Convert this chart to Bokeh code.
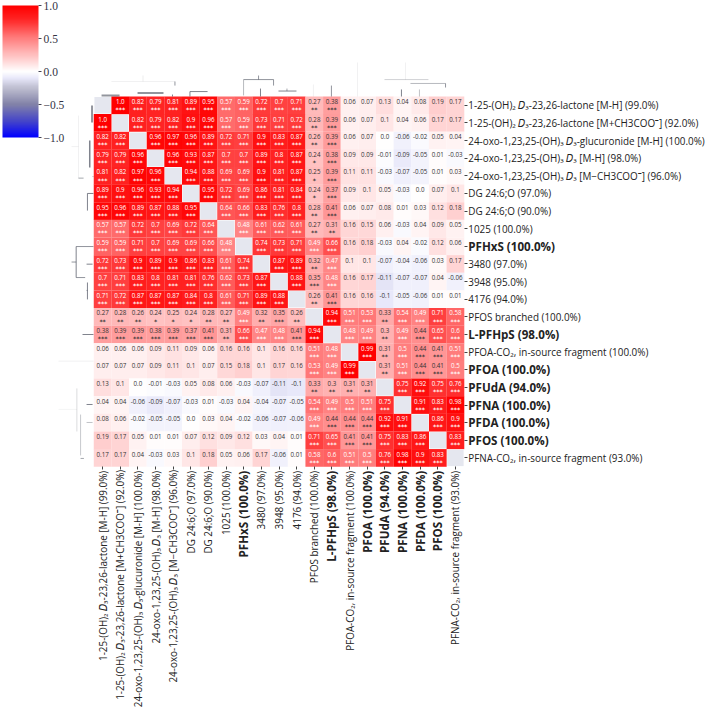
from math import pi
from bokeh.embed import file_html
from bokeh.resources import INLINE
from bokeh.plotting import figure
from bokeh.models import (ColumnDataSource, LinearColorMapper, ColorBar, FixedTicker, LinearAxis, Range1d)
from bokeh.core.properties import value

labels = [
    "1-25-(OH)₂ 𝐷₃-23,26-lactone [M-H] (99.0%)",
    "1-25-(OH)₂ 𝐷₃-23,26-lactone [M+CH3COO⁻] (92.0%)",
    "24-oxo-1,23,25-(OH)₃ 𝐷₃-glucuronide [M-H] (100.0%)",
    "24-oxo-1,23,25-(OH)₃ 𝐷₃ [M-H] (98.0%)",
    "24-oxo-1,23,25-(OH)₃ 𝐷₃ [M−CH3COO⁻] (96.0%)",
    "DG 24:6;O (97.0%)",
    "DG 24:6;O (90.0%)",
    "1025 (100.0%)",
    "PFHxS (100.0%)",
    "3480 (97.0%)",
    "3948 (95.0%)",
    "4176 (94.0%)",
    "PFOS branched (100.0%)",
    "L-PFHpS (98.0%)",
    "PFOA-CO₂, in-source fragment (100.0%)",
    "PFOA (100.0%)",
    "PFUdA (94.0%)",
    "PFNA (100.0%)",
    "PFDA (100.0%)",
    "PFOS (100.0%)",
    "PFNA-CO₂, in-source fragment (93.0%)",
]
bold_labels = ["PFHxS (100.0%)", "L-PFHpS (98.0%)", "PFOA (100.0%)", "PFUdA (94.0%)",
               "PFNA (100.0%)", "PFDA (100.0%)", "PFOS (100.0%)"]

row00 = [None, 1.0, .82, .79, .81, .89, .95, .57, .59, .72, .7, .71, .27, .38, .06, .07, .13, .04, .08, .19, .17]
row01 = [1.0, None, .82, .79, .82, .9, .96, .57, .59, .73, .71, .72, .28, .39, .06, .07, .1, .04, .06, .17, .17]
row02 = [.82, .82, None, .96, .97, .96, .89, .72, .71, .9, .83, .87, .26, .39, .06, .07, 0.0, -.06, -.02, .05, .04]
row03 = [.79, .79, .96, None, .96, .93, .87, .7, .7, .89, .8, .87, .24, .38, .09, .09, -.01, -.09, -.05, .01, -.03]
row04 = [.81, .82, .97, .96, None, .94, .88, .69, .69, .9, .81, .87, .25, .39, .11, .11, -.03, -.07, -.05, .01, .03]
row05 = [.89, .9, .96, .93, .94, None, .95, .72, .69, .86, .81, .84, .24, .37, .09, .1, .05, -.03, 0.0, .07, .1]
row06 = [.95, .96, .89, .87, .88, .95, None, .64, .66, .83, .76, .8, .28, .41, .06, .07, .08, .01, .03, .12, .18]
row07 = [.57, .57, .72, .7, .69, .72, .64, None, .48, .61, .62, .61, .27, .31, .16, .15, .06, -.03, .04, .09, .05]
row08 = [.59, .59, .71, .7, .69, .69, .66, .48, None, .74, .73, .71, .49, .66, .16, .18, -.03, .04, -.02, .12, .06]
row09 = [.72, .73, .9, .89, .9, .86, .83, .61, .74, None, .87, .89, .32, .47, .1, .1, -.07, -.04, -.06, .03, .17]
row10 = [.7, .71, .83, .8, .81, .81, .76, .62, .73, .87, None, .88, .35, .48, .16, .17, -.11, -.07, -.07, .04, -.06]
row11 = [.71, .72, .87, .87, .87, .84, .8, .61, .71, .89, .88, None, .26, .41, .16, .16, -.1, -.05, -.06, .01, .01]
row12 = [.27, .28, .26, .24, .25, .24, .28, .27, .49, .32, .35, .26, None, .94, .51, .53, .33, .54, .49, .71, .58]
row13 = [.38, .39, .39, .38, .39, .37, .41, .31, .66, .47, .48, .41, .94, None, .48, .49, .3, .49, .44, .65, .6]
row14 = [.06, .06, .06, .09, .11, .09, .06, .16, .16, .1, .16, .16, .51, .48, None, .99, .31, .5, .44, .41, .51]
row15 = [.07, .07, .07, .09, .11, .1, .07, .15, .18, .1, .17, .16, .53, .49, .99, None, .31, .51, .44, .41, .5]
row16 = [.13, .1, 0.0, -.01, -.03, .05, .08, .06, -.03, -.07, -.11, -.1, .33, .3, .31, .31, None, .75, .92, .75, .76]
row17 = [.04, .04, -.06, -.09, -.07, -.03, .01, -.03, .04, -.04, -.07, -.05, .54, .49, .5, .51, .75, None, .91, .83, .98]
row18 = [.08, .06, -.02, -.05, -.05, 0.0, .03, .04, -.02, -.06, -.07, -.06, .49, .44, .44, .44, .92, .91, None, .86, .9]
row19 = [.19, .17, .05, .01, .01, .07, .12, .09, .12, .03, .04, .01, .71, .65, .41, .41, .75, .83, .86, None, .83]
row20 = [.17, .17, .04, -.03, .03, .1, .18, .05, .06, .17, -.06, .01, .58, .6, .51, .5, .76, .98, .9, .83, None]
matrix = [row00, row01, row02, row03, row04, row05, row06, row07, row08, row09, row10,
          row11, row12, row13, row14, row15, row16, row17, row18, row19, row20]

# dendrogram segments in cell units: x0, y0, x1, y1, alpha, width
top_tree = [
    (1.0, -.85, 4.6, -.85, .08, 1), (2.79, -1.19, 2.79, -.85, .1, 1), (4.6, -.85, 4.6, -.62, .6, 1),
    (.44, -.06, 1.46, -.06, .6, 2), (2.48, -.2, 3.95, -.2, .6, 2), (4.46, -.11, 4.46, 0, .7, 1),
    (5.45, -.28, 5.45, 0, .7, 1), (5.45, -.28, 6.45, -.28, .7, 1), (8.49, -.96, 10.19, -.96, .6, 1),
    (8.49, -.96, 8.49, -.06, .4, 1), (10.19, -.96, 10.19, -.62, .6, 1), (9.34, -1.19, 9.34, -.96, .6, 1),
    (9.45, -.45, 9.45, 0, .7, 1), (10.47, -.31, 11.49, -.31, .7, 1), (10.95, -.45, 10.95, -.31, .5, 1),
    (13.47, -.62, 13.47, 0, .6, 1), (12.45, -.68, 12.45, 0, .08, 1), (14.95, -1.93, 14.95, 0, .08, 1),
    (16.48, -.96, 18.97, -.96, .25, 1), (17.67, -1.93, 17.67, -.96, .08, 1), (17.95, -.74, 19.94, -.74, .4, 1),
    (19.94, -.74, 19.94, -.51, .6, 1), (17.44, -.4, 17.44, 0, .7, 1), (18.46, -.4, 18.46, 0, .35, 1),
]
left_tree = [
    (-.1, .51, -.1, 1.47, .6, 2), (-.23, 2.5, -.23, 4.03, .7, 1.5), (-.87, 1.08, -.87, 4.63, .08, 1),
    (-1.26, 2.84, -.87, 2.84, .08, 1), (-.87, 4.63, -.58, 4.63, .5, 1), (-.07, 4.54, -.02, 4.54, .5, 1),
    (-.36, 5.5, -.02, 5.5, .7, 1), (-.36, 5.5, -.36, 6.47, .7, 1), (-1.0, 8.51, -.02, 8.51, .6, 1),
    (-1.0, 8.51, -1.0, 10.27, .7, 1), (-1.0, 10.27, -.49, 10.27, .6, 1), (-1.26, 9.39, -1.0, 9.39, .6, 1),
    (-.41, 9.51, -.07, 9.51, .7, 1), (-.36, 10.55, -.36, 11.51, .7, 1), (-.41, 11.0, -.36, 11.0, .6, 1),
    (-.64, 13.5, -.02, 13.5, .7, 1), (-2.0, 15.01, -.02, 15.01, .08, 1), (-.96, 16.56, -.96, 19.0, .2, 1),
    (-2.0, 17.75, -.96, 17.75, .06, 1), (-.75, 18.04, -.75, 20.36, .3, 1), (-.75, 20.53, -.56, 20.53, .5, 1),
    (-.41, 17.47, -.07, 17.47, .7, 1), (-.41, 18.49, -.07, 18.49, .35, 1),
]

# colour scale
anchors = [(-1.0, (0, 0, 255)), (-.75, (70, 70, 200)), (-.5, (130, 130, 168)), (-.25, (190, 190, 208)),
           (-.1, (232, 232, 250)), (0.0, (255, 255, 255)), (.5, (255, 128, 128)), (.8, (255, 35, 35)), (1.0, (255, 0, 0))]
palette = []
for k in range(256):
    t = -1 + 2 * k / 255
    for (a, ca), (b, cb) in zip(anchors, anchors[1:]):
        if a <= t <= b:
            f = (t - a) / (b - a)
            palette.append("#%02x%02x%02x" % tuple(round(ca[i] + f * (cb[i] - ca[i])) for i in range(3)))
            break
mapper = LinearColorMapper(palette=palette, low=-1, high=1)

W, H = 705, 710
CX, CY = 17.64, 17.63      # cell size in px
OX, OY = 93.3, 96.0        # grid origin in px

p = figure(width=W, height=H, output_backend="svg", toolbar_location=None,
           x_range=Range1d(-OX / CX, (W - OX) / CX), y_range=Range1d((H - OY) / CY, -OY / CY),
           min_border=0, x_axis_location=None, y_axis_location=None, outline_line_color=None)
p.grid.visible = False

def star(v):
    a = abs(v)
    return "***" if a >= .345 else "**" if a >= .255 else "*" if a >= .235 else ""

cells = dict(x=[], y=[], v=[], t=[], s=[], c=[])
diag = dict(x=[], y=[])
for r, row in enumerate(matrix):
    for c, v in enumerate(row):
        if v is None:
            diag["x"].append(c + .5); diag["y"].append(r + .5)
            continue
        cells["x"].append(c + .5); cells["y"].append(r + .5); cells["v"].append(v)
        cells["t"].append(str(v)); cells["s"].append(star(v))
        cells["c"].append("#ffffff" if abs(v) >= .45 else "#333333")
src = ColumnDataSource(dict(cells, ty=[y - .22 for y in cells["y"]], sy=[y + .24 for y in cells["y"]]))

p.rect("x", "y", 1.005, 1.005, source=src, fill_color={"field": "v", "transform": mapper}, line_color=None)
p.rect("x", "y", .93, .93, source=ColumnDataSource(diag), fill_color="#e5e7ef", line_color=None)
p.text("x", "ty", text="t", source=src, text_font=value("Open Sans"), text_font_size="6.2px",
       text_align="center", text_baseline="middle", text_color="c")
p.text("x", "sy", text="s", source=src, text_font=value("DejaVu Sans"), text_font_size="6.2px",
       text_align="center", text_baseline="middle", text_color="c", text_font_style="bold")

for seg in top_tree + left_tree:
    p.segment(seg[0], seg[1], seg[2], seg[3], line_color="#4a4f5c", line_alpha=seg[4], line_width=seg[5])

ticks = [i + .5 for i in range(len(labels))]
normal = [t for t, l in zip(ticks, labels) if l not in bold_labels]
bold = [t for t, l in zip(ticks, labels) if l in bold_labels]
names = dict(zip(ticks, labels))
for tk, style, size in ((normal, "normal", "9.9px"), (bold, "bold", "11.6px")):
    for side in ("right", "below"):
        ax = LinearAxis(fixed_location=21, ticker=FixedTicker(ticks=tk),
                        major_label_overrides={t: names[t] for t in tk},
                        axis_line_color=None, major_tick_in=0, major_tick_out=3, minor_tick_line_color=None,
                        major_tick_line_color="#444444", major_label_standoff=1,
                        major_label_text_font="Open Sans", major_label_text_font_size=size,
                        major_label_text_font_style=style, major_label_text_color="#222222")
        if side == "below":
            ax.major_label_orientation = pi / 2
        p.add_layout(ax, side)

bar = ColorBar(color_mapper=mapper, location=(2, H - 137), width=36, height=132, padding=0,
               ticker=FixedTicker(ticks=[-1, -.5, 0, .5, 1]),
               major_label_overrides={-1: "−1.0", -.5: "−0.5", 0: "0.0", .5: "0.5", 1: "1.0"},
               major_tick_in=0, major_tick_out=3, major_tick_line_color="#445", bar_line_color=None,
               major_label_text_font="Liberation Serif", major_label_text_font_size="11.5px",
               major_label_text_color="#334", label_standoff=2, background_fill_color=None,
               border_line_color=None)
p.add_layout(bar, "center")

open("out.html", "w").write(file_html(p, INLINE))
